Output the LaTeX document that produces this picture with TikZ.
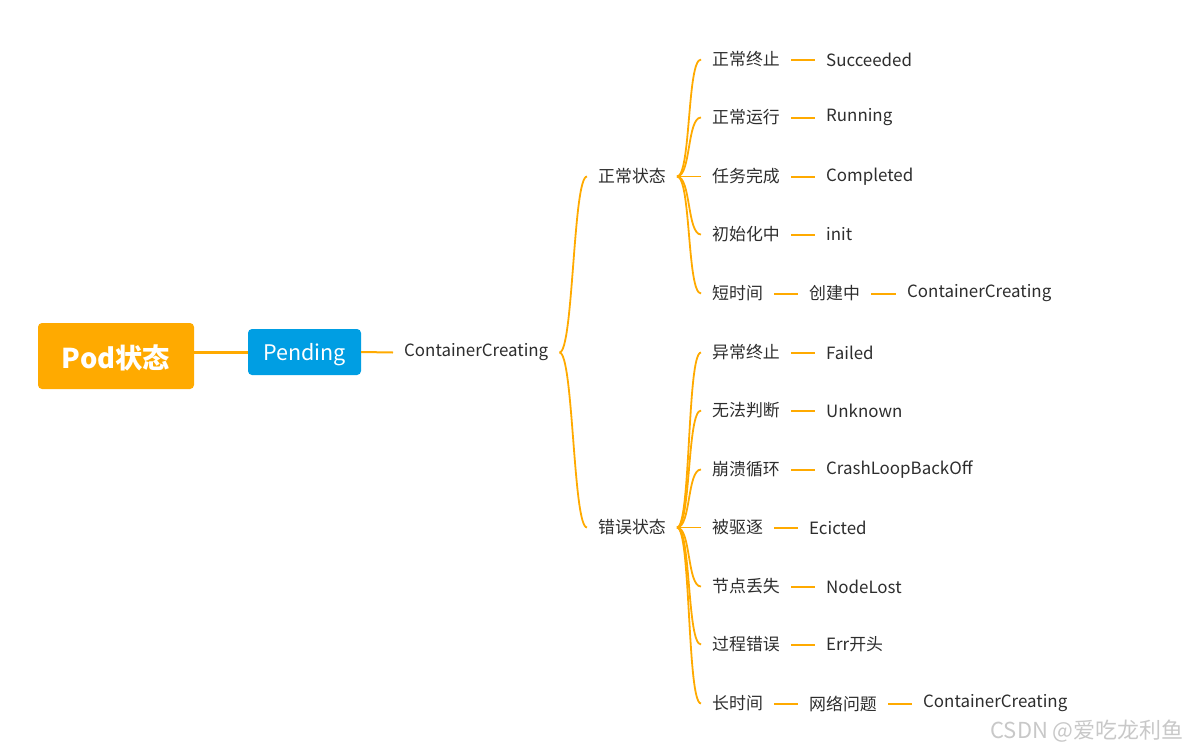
\documentclass[tikz,border=0pt]{standalone}
\usepackage{fontspec}
\setmainfont{Noto Sans CJK SC}
\definecolor{lineor}{RGB}{255,170,0}
\definecolor{rootor}{RGB}{255,170,0}
\definecolor{pendblue}{RGB}{0,158,227}
\definecolor{txt}{RGB}{45,45,45}
\definecolor{wm}{RGB}{200,200,200}
\begin{document}
\begin{tikzpicture}[x=1pt,y=-1pt,
  lbl/.style={anchor=west,inner xsep=11pt,inner ysep=0pt,text=txt,font=\fontsize{16.9}{19}\selectfont},
  conn/.style={draw=lineor,line width=2pt},
  curv/.style={draw=lineor,line width=1.8pt},
]
\useasboundingbox (0,0) rectangle (1189,750);
% root and pending
\node[fill=rootor,rounded corners=4pt,minimum width=156pt,minimum height=66pt,inner sep=0pt,
  text=white,font=\fontsize{27.3}{31}\selectfont\bfseries] (root) at (116,356) {\raisebox{-1.5pt}[\height][\depth]{Pod状态}};
\node[fill=pendblue,rounded corners=4pt,minimum width=113pt,minimum height=46pt,inner sep=0pt,
  text=white,font=\fontsize{21.5}{25}\selectfont] (pend) at (304.5,352) {\raisebox{-3pt}[\height][\depth]{Pending}};
\draw[draw=lineor,line width=3pt] (root.east |- pend.west) -- (pend.west);
\node[lbl] (cc) at (393,352.5) {ContainerCreating};
\draw[conn] (pend.east) -- (cc.west);
% level 2
\node[lbl] (ok) at (587,176.5) {正常状态};
\node[lbl] (err) at (587,527.5) {错误状态};
\foreach \t in {ok,err}
  \draw[curv] (cc.east) .. controls +(14,0) and +(-14,0) .. (\t.west);
% normal children
\node[lbl] (a1) at (701,59.5) {正常终止};
\node[lbl] (a2) at (701,117.5) {正常运行};
\node[lbl] (a3) at (701,176.5) {任务完成};
\node[lbl] (a4) at (701,234.5) {初始化中};
\node[lbl] (a5) at (701,293.5) {短时间};
\foreach \t in {a1,a2,a3,a4,a5}
  \draw[curv] (ok.east) .. controls +(14,0) and +(-14,0) .. (\t.west);
\node[lbl] (b1) at (815,59.5) {Succeeded};
\node[lbl] (b2) at (815,117.5) {Running};
\node[lbl] (b3) at (815,176.5) {Completed};
\node[lbl] (b4) at (815,234.5) {init};
\node[lbl] (b5) at (798,293.5) {创建中};
\node[lbl] (c5) at (896,293.5) {ContainerCreating};
\foreach \i in {1,...,5}
  \draw[conn] (a\i.east) -- (b\i.west);
\draw[conn] (b5.east) -- (c5.west);
% error children
\node[lbl] (e1) at (701,352.5) {异常终止};
\node[lbl] (e2) at (701,410.5) {无法判断};
\node[lbl] (e3) at (701,469.5) {崩溃循环};
\node[lbl] (e4) at (701,527.5) {被驱逐};
\node[lbl] (e5) at (701,586.5) {节点丢失};
\node[lbl] (e6) at (701,644.5) {过程错误};
\node[lbl] (e7) at (701,703.5) {长时间};
\foreach \t in {e1,e2,e3,e4,e5,e6,e7}
  \draw[curv] (err.east) .. controls +(14,0) and +(-14,0) .. (\t.west);
\node[lbl] (f1) at (815,352.5) {Failed};
\node[lbl] (f2) at (815,410.5) {Unknown};
\node[lbl] (f3) at (815,469.5) {CrashLoopBackOff};
\node[lbl] (f4) at (798,527.5) {Ecicted};
\node[lbl] (f5) at (815,586.5) {NodeLost};
\node[lbl] (f6) at (815,644.5) {Err开头};
\node[lbl] (f7) at (798,703.5) {网络问题};
\node[lbl] (g7) at (912,703.5) {ContainerCreating};
\foreach \i in {1,...,7}
  \draw[conn] (e\i.east) -- (f\i.west);
\draw[conn] (f7.east) -- (g7.west);
% watermark
\node[anchor=east,inner sep=0pt,text=wm,font=\fontsize{22}{25}\selectfont] (wmk) at (1184,731) {CSDN @爱吃龙利鱼};
\end{tikzpicture}
\end{document}
